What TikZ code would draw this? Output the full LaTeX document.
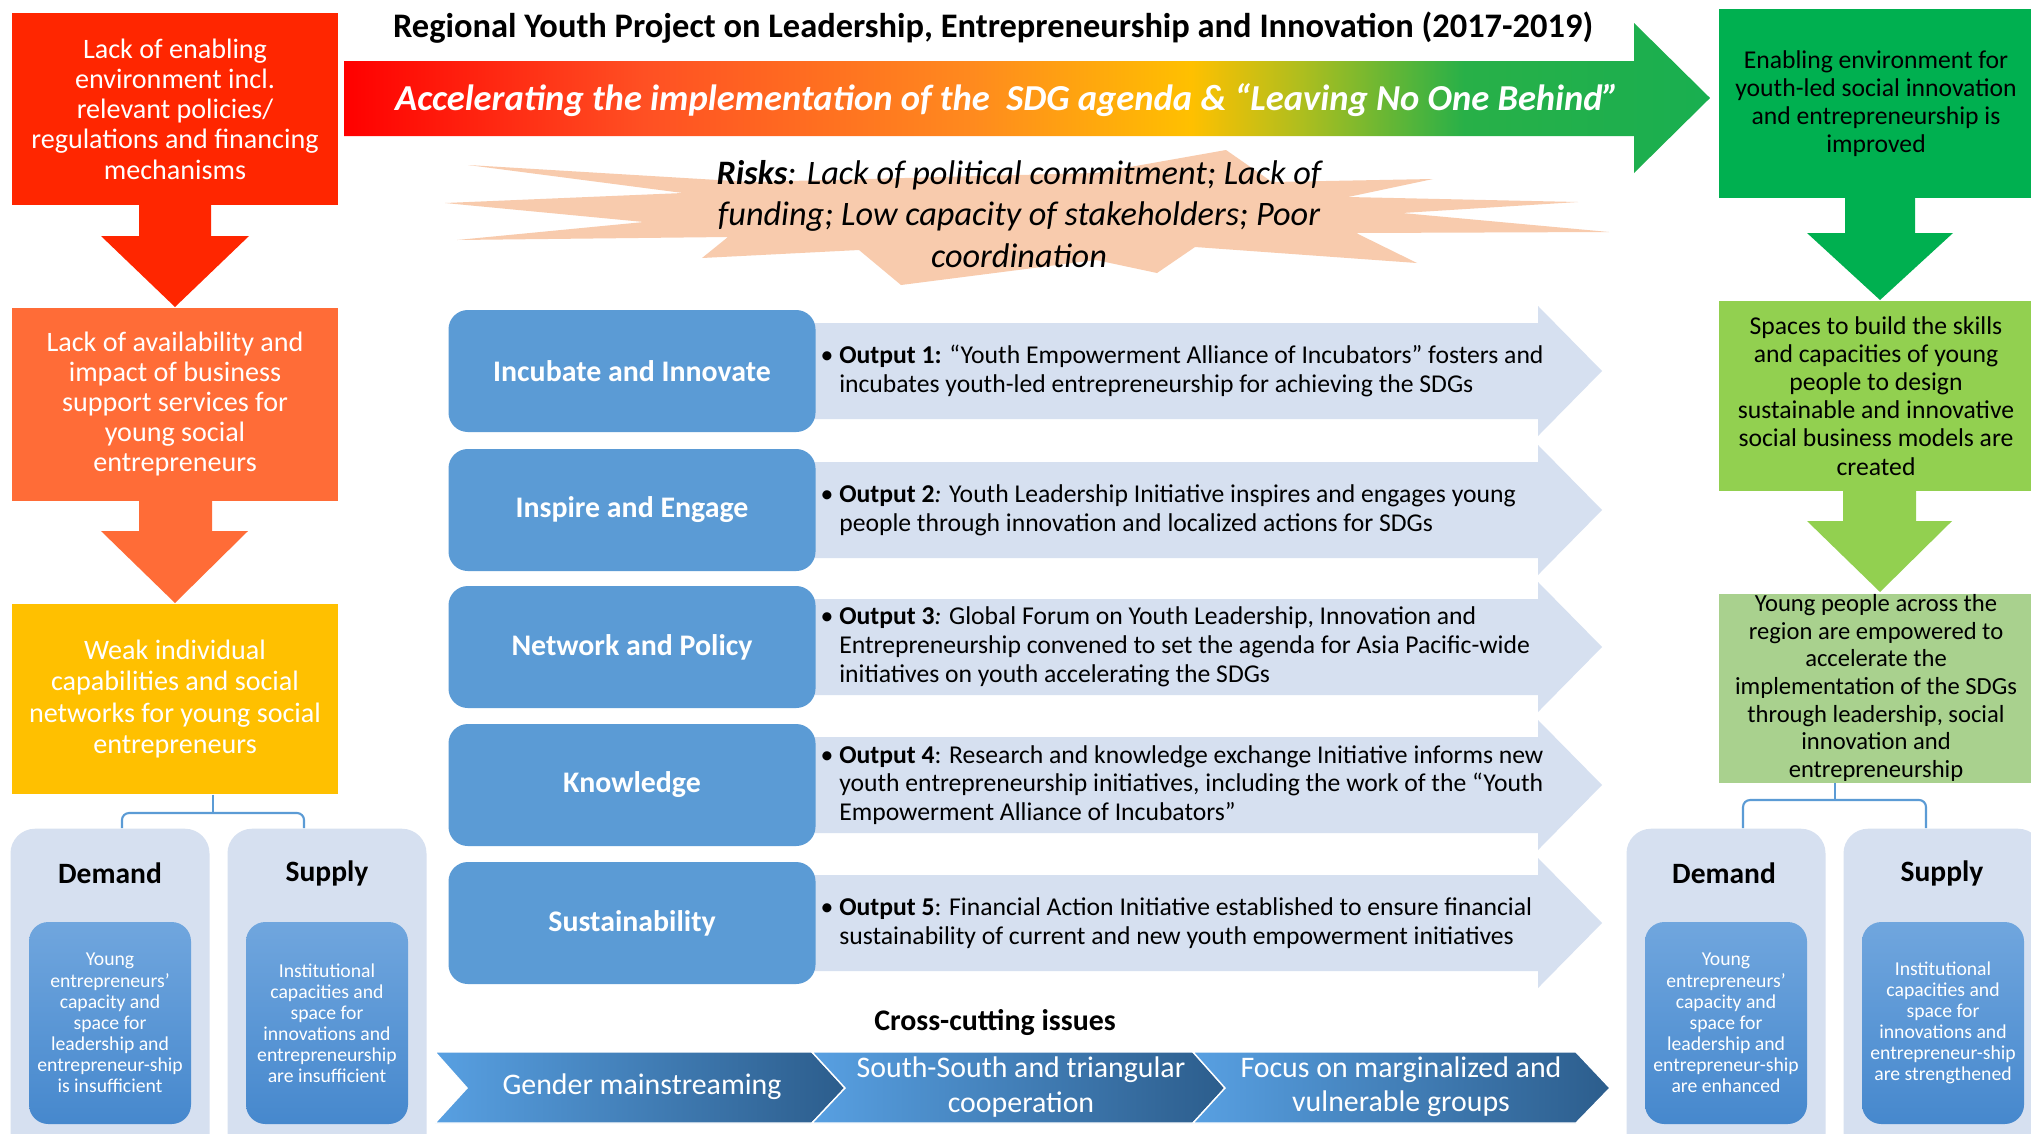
\documentclass[tikz,border=0pt]{standalone}
\usepackage{fontspec}
\setmainfont{Carlito}
\usepackage{tikz}

\definecolor{lackred}{RGB}{255,38,0}
\definecolor{lackorange}{RGB}{255,108,55}
\definecolor{lackyellow}{RGB}{255,192,0}
\definecolor{goalgreen}{RGB}{0,176,80}
\definecolor{goallime}{RGB}{146,208,80}
\definecolor{goalpale}{RGB}{169,209,142}
\definecolor{areablue}{RGB}{91,155,213}
\definecolor{outblue}{RGB}{214,224,240}
\definecolor{riskpeach}{RGB}{248,203,173}
\definecolor{innertop}{RGB}{112,166,222}
\definecolor{innerbot}{RGB}{70,136,205}
\definecolor{chevlight}{RGB}{88,160,226}
\definecolor{chevdark}{RGB}{44,93,140}
\definecolor{sdgA}{RGB}{255,0,0}
\definecolor{sdgB}{RGB}{255,80,35}
\definecolor{sdgC}{RGB}{255,138,30}
\definecolor{sdgD}{RGB}{255,192,0}
\definecolor{sdgE}{RGB}{175,190,30}
\definecolor{sdgF}{RGB}{40,176,72}
\definecolor{sdgG}{RGB}{25,175,80}
\pgfdeclarehorizontalshading{sdgshade}{100bp}{color(0bp)=(sdgA); color(25bp)=(sdgA); color(36bp)=(sdgB); color(48bp)=(sdgC); color(56bp)=(sdgD); color(60bp)=(sdgE); color(66bp)=(sdgF); color(75bp)=(sdgG); color(100bp)=(sdgG)}

\tikzset{
  problem/.style={text=white, align=center, inner sep=0pt, font=\fontsize{8}{8.6}\selectfont},
  result/.style={text=black, align=center, inner sep=0pt, font=\fontsize{7.3}{8}\selectfont},
  area/.style={fill=areablue, rounded corners=5.5pt, minimum width=3.67cm, minimum height=1.22cm, text=white, font=\bfseries\fontsize{8.5}{9.6}\selectfont},
  output/.style={anchor=west, align=left, inner sep=0pt, font=\fontsize{7.3}{8.2}\selectfont},
  panel/.style={fill=outblue, rounded corners=7pt, anchor=north, minimum width=1.99cm, minimum height=3.6cm},
  panelhead/.style={font=\bfseries\fontsize{8.4}{10}\selectfont},
  inner/.style={top color=innertop, bottom color=innerbot, rounded corners=5.5pt, minimum width=1.62cm, minimum height=2.02cm, text=white, align=center, inner sep=0pt, font=\fontsize{5.6}{6}\selectfont},
  chevron/.style={left color=chevlight, right color=chevdark, draw=white, line width=0.4pt},
  chevtext/.style={text=white, align=center, font=\fontsize{8.5}{9.7}\selectfont},
  bracket/.style={draw=areablue, line width=0.6pt, rounded corners=2pt}
}

\begin{document}
\begin{tikzpicture}[x=0.1mm,y=-0.1mm]
\fill[white] (0,0) rectangle (2031,1133);
\useasboundingbox (0,0) rectangle (2031,1133);

\node[font=\bfseries\fontsize{9.8}{11}\selectfont] (title) at (993,28) {Regional Youth Project on Leadership, Entrepreneurship and Innovation (2017-2019)};
\shade[shading=sdgshade] (344,61) -- (1634,61) -- (1634,23) -- (1710,98) -- (1634,173) -- (1634,136) -- (344,136) -- cycle;
\node[text=white, font=\bfseries\itshape\fontsize{10.4}{12}\selectfont] (agenda) at (1007,100) {Accelerating the implementation of the\ \ SDG agenda \& “Leaving No One Behind”};

\fill[riskpeach] (468,165) -- (751,182) -- (1096,173) -- (1226,150) -- (1272,182) -- (1433,179) -- (1348,197) -- (1578,202) -- (1402,213) -- (1609,232) -- (1356,233) -- (1417,263) -- (1195,247) -- (1157,273) -- (1096,260) -- (901,285) -- (859,250) -- (702,258) -- (728,237) -- (457,240) -- (644,222) -- (445,203) -- (683,193) -- cycle;
\node[align=center, font=\itshape\fontsize{9.75}{11.7}\selectfont] (risks) at (1019,214) {\textbf{Risks}: Lack of political commitment; Lack of\\funding; Low capacity of stakeholders; Poor\\coordination};

\node[problem, fill=lackred, minimum width=3.26cm, minimum height=1.92cm] (enabling) at (175,109) {Lack of enabling\\environment incl.\\relevant policies/\\regulations and financing\\mechanisms};
\fill[lackred] (139,204) -- (211,204) -- (211,236) -- (249,236) -- (175,307) -- (101,236) -- (139,236) -- cycle;
\node[problem, fill=lackorange, minimum width=3.26cm, minimum height=1.93cm] (support) at (175,404) {Lack of availability and\\impact of business\\support services for\\young social\\entrepreneurs};
\fill[lackorange] (139,500) -- (212,500) -- (212,531) -- (248,531) -- (175,603) -- (101,531) -- (139,531) -- cycle;
\node[problem, fill=lackyellow, minimum width=3.26cm, minimum height=1.9cm, font=\fontsize{8}{8.9}\selectfont] (weak) at (175,699) {Weak individual\\capabilities and social\\networks for young social\\entrepreneurs};

\node[result, fill=goalgreen, minimum width=3.14cm, minimum height=1.89cm] (improved) at (1876,103.5) {Enabling environment for\\youth-led social innovation\\and entrepreneurship is\\improved};
\fill[goalgreen] (1845,197) -- (1915,197) -- (1915,233) -- (1953,233) -- (1880,300) -- (1807,233) -- (1845,233) -- cycle;
\node[result, fill=goallime, minimum width=3.14cm, minimum height=1.9cm] (spaces) at (1876,396) {Spaces to build the skills\\and capacities of young\\people to design\\sustainable and innovative\\social business models are\\created};
\fill[goallime] (1843,490) -- (1916,490) -- (1916,521) -- (1952,521) -- (1880,592) -- (1807,521) -- (1843,521) -- cycle;
\node[result, fill=goalpale, minimum width=3.14cm, minimum height=1.89cm, font=\fontsize{7}{7.85}\selectfont] (empowered) at (1876,688) {Young people across the\\region are empowered to\\accelerate the\\implementation of the SDGs\\through leadership, social\\innovation and\\entrepreneurship};

\fill[outblue] (800,323) -- (1538,323) -- (1538,306) -- (1602,371) -- (1538,436) -- (1538,419) -- (800,419) -- cycle;
\fill[outblue] (800,462) -- (1538,462) -- (1538,445) -- (1602,510) -- (1538,575) -- (1538,558) -- (800,558) -- cycle;
\fill[outblue] (800,599) -- (1538,599) -- (1538,582) -- (1602,647) -- (1538,712) -- (1538,695) -- (800,695) -- cycle;
\fill[outblue] (800,737) -- (1538,737) -- (1538,720) -- (1602,785) -- (1538,850) -- (1538,833) -- (800,833) -- cycle;
\fill[outblue] (800,875) -- (1538,875) -- (1538,858) -- (1602,923) -- (1538,988) -- (1538,971) -- (800,971) -- cycle;

\node[area] (incubate) at (632,371) {Incubate and Innovate};
\node[area] (inspire) at (632,510) {Inspire and Engage};
\node[area] (network) at (632,647) {Network and Policy};
\node[area] (knowledge) at (632,785) {Knowledge};
\node[area] (sustain) at (632,923) {Sustainability};

\node[output] (out1) at (820,371) {\textbullet\ \textbf{Output 1:} “Youth Empowerment Alliance of Incubators” fosters and\\\phantom{\textbullet\ }incubates youth-led entrepreneurship for achieving the SDGs};
\node[output] (out2) at (820,510) {\textbullet\ \textbf{Output 2}\textit{:} Youth Leadership Initiative inspires and engages young\\\phantom{\textbullet\ }people through innovation and localized actions for SDGs};
\node[output] (out3) at (820,647) {\textbullet\ \textbf{Output 3}\textit{:} Global Forum on Youth Leadership, Innovation and\\\phantom{\textbullet\ }Entrepreneurship convened to set the agenda for Asia Pacific-wide\\\phantom{\textbullet\ }initiatives on youth accelerating the SDGs};
\node[output] (out4) at (820,785) {\textbullet\ \textbf{Output 4}: Research and knowledge exchange Initiative informs new\\\phantom{\textbullet\ }youth entrepreneurship initiatives, including the work of the “Youth\\\phantom{\textbullet\ }Empowerment Alliance of Incubators”};
\node[output] (out5) at (820,923) {\textbullet\ \textbf{Output 5}: Financial Action Initiative established to ensure financial\\\phantom{\textbullet\ }sustainability of current and new youth empowerment initiatives};

\node[font=\bfseries\fontsize{8.5}{9.5}\selectfont] (crosscut) at (995,1023) {Cross-cutting issues};
\path[chevron] (435,1052) -- (812,1052) -- (845,1088) -- (812,1123) -- (435,1123) -- (467,1088) -- cycle;
\path[chevron] (812,1052) -- (1193,1052) -- (1225,1088) -- (1193,1123) -- (812,1123) -- (845,1088) -- cycle;
\path[chevron] (1193,1052) -- (1576,1052) -- (1610,1088) -- (1576,1123) -- (1193,1123) -- (1225,1088) -- cycle;
\node[chevtext] (gender) at (642,1087) {Gender mainstreaming};
\node[chevtext] (southsouth) at (1021,1087) {South-South and triangular\\cooperation};
\node[chevtext] (marginal) at (1401,1087) {Focus on marginalized and\\vulnerable groups};

\node[panel] (ldemand) at (110,828) {};
\node[panel] (lsupply) at (327,828) {};
\node[panelhead] (ldemandhead) at (110,873) {Demand};
\node[panelhead] (lsupplyhead) at (327,873) {Supply};
\node[inner] (ldemandin) at (110,1023) {Young\\entrepreneurs’\\capacity and\\space for\\leadership and\\entrepreneur-ship\\is insufficient};
\node[inner] (lsupplyin) at (327,1023) {Institutional\\capacities and\\space for\\innovations and\\entrepreneurship\\are insufficient};
\coordinate (lfork) at (213,813);
\draw[bracket] (lfork |- weak.south) -- (lfork);
\draw[bracket] ([xshift=1.2mm]ldemand.north) |- (lfork) -| ([xshift=-2.3mm]lsupply.north);

\node[panel] (rdemand) at (1726,828) {};
\node[panel] (rsupply) at (1943,828) {};
\node[panelhead] (rdemandhead) at (1724,873) {Demand};
\node[panelhead] (rsupplyhead) at (1942,873) {Supply};
\node[inner] (rdemandin) at (1726,1023) {Young\\entrepreneurs’\\capacity and\\space for\\leadership and\\entrepreneur-ship\\are enhanced};
\node[inner] (rsupplyin) at (1943,1023) {Institutional\\capacities and\\space for\\innovations and\\entrepreneur-ship\\are strengthened};
\coordinate (rfork) at (1835,800);
\draw[bracket] (rfork |- empowered.south) -- (rfork);
\draw[bracket] ([xshift=1.7mm]rdemand.north) |- (rfork) -| ([xshift=-1.7mm]rsupply.north);
\end{tikzpicture}
\end{document}
